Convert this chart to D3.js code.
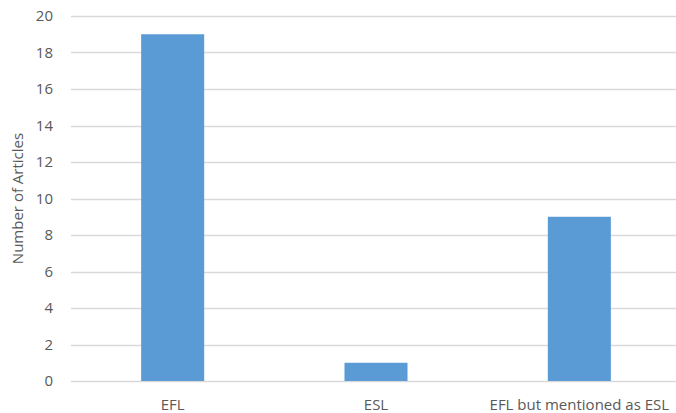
<!DOCTYPE html>
<html>
<head>
<meta charset="utf-8">
<script src="https://cdn.jsdelivr.net/npm/d3@7"></script>
<style>
  html, body { margin: 0; padding: 0; background: #fff; }
  svg { display: block; }
  text { font-family: "Open Sans", "Liberation Sans", sans-serif; fill: #595959; }
</style>
</head>
<body>
<svg id="chart" width="676" height="413"></svg>
<script>
const categories = ["EFL", "ESL", "EFL but mentioned as ESL"];
const articleCounts = [19, 1, 9];
const yTicks = [0, 2, 4, 6, 8, 10, 12, 14, 16, 18, 20];
const yTitle = "Number of Articles";

const svg = d3.select("#chart");
const plotLeft = 71, plotRight = 681, plotTop = 16, plotBottom = 381;

const x = d3.scaleBand()
  .domain(categories)
  .range([plotLeft, plotRight])
  .paddingInner(0.69)
  .paddingOuter(0.345);

const y = d3.scaleLinear().domain([0, 20]).range([plotBottom, plotTop]);

// Horizontal gridlines
svg.append("g")
  .selectAll("line")
  .data(yTicks)
  .join("line")
  .attr("x1", plotLeft)
  .attr("x2", 676)
  .attr("y1", d => Math.round(y(d)) + 0.5)
  .attr("y2", d => Math.round(y(d)) + 0.5)
  .attr("stroke", "#d9d9d9")
  .attr("stroke-width", 1.5);

// Y tick labels
svg.append("g")
  .selectAll("text")
  .data(yTicks)
  .join("text")
  .attr("x", 53)
  .attr("y", d => y(d))
  .attr("dy", "0.36em")
  .attr("text-anchor", "end")
  .style("font-size", "15px")
  .text(d => d);

// Bars
svg.append("g")
  .selectAll("rect")
  .data(categories)
  .join("rect")
  .attr("x", d => x(d))
  .attr("width", x.bandwidth())
  .attr("y", (d, i) => y(articleCounts[i]))
  .attr("height", (d, i) => y(0) - y(articleCounts[i]))
  .attr("fill", "#5b9bd5");

// X category labels
svg.append("g")
  .selectAll("text")
  .data(categories)
  .join("text")
  .attr("x", d => x(d) + x.bandwidth() / 2)
  .attr("y", 405)
  .attr("dy", "0.36em")
  .attr("text-anchor", "middle")
  .style("font-size", "15px")
  .text(d => d);

// Y axis title
svg.append("text")
  .attr("transform", `translate(18, ${(plotTop + plotBottom) / 2}) rotate(-90)`)
  .attr("text-anchor", "middle")
  .attr("dy", "0.36em")
  .style("font-size", "15px")
  .text(yTitle);
</script>
</body>
</html>
